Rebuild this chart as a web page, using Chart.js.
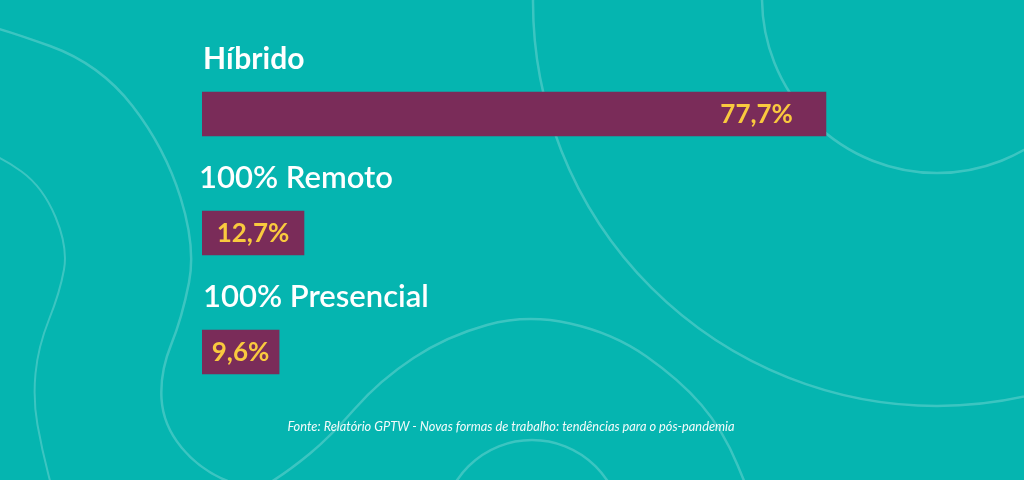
<!DOCTYPE html>
<html>
<head>
<meta charset="utf-8">
<script src="https://cdn.jsdelivr.net/npm/chart.js@4"></script>
<style>
    html, body { margin: 0; padding: 0; background: #05b5b0; }
    #chart-box { width: 1024px; height: 480px; }
</style>
</head>
<body>
<div id="chart-box"><canvas id="Work-Chart" width="1024" height="480"></canvas></div>
<script>
// Data
const categories = ['Híbrido', '100% Remoto', '100% Presencial'];
const shares = [77.7, 12.7, 9.6];
const valueLabels = ['77,7%', '12,7%', '9,6%'];
const sourceNote = 'Fonte: Relatório GPTW - Novas formas de trabalho: tendências para o pós-pandemia';

document.addEventListener('DOMContentLoaded', function () {
    const ctx = document.getElementById('Work-Chart').getContext('2d');

    // smooth line through a list of points (background decoration only)
    function smoothPath(c, pts) {
        c.beginPath();
        c.moveTo(pts[0][0], pts[0][1]);
        for (let i = 1; i < pts.length - 1; i++) {
            const mx = (pts[i][0] + pts[i + 1][0]) / 2;
            const my = (pts[i][1] + pts[i + 1][1]) / 2;
            c.quadraticCurveTo(pts[i][0], pts[i][1], mx, my);
        }
        const last = pts[pts.length - 1];
        c.lineTo(last[0], last[1]);
        c.stroke();
    }

    const backdrop = {
        id: 'backdrop',
        beforeDraw(chart) {
            const c = chart.ctx;
            c.save();
            c.fillStyle = '#05b5b0';
            c.fillRect(0, 0, chart.width, chart.height);
            c.strokeStyle = 'rgba(255, 255, 255, 0.22)';
            c.lineWidth = 2.5;
            // big ring top right
            c.beginPath();
            c.arc(937, 2, 404, 0, Math.PI * 2);
            c.stroke();
            // small ring top right
            c.beginPath();
            c.arc(937, -2, 175, 0, Math.PI * 2);
            c.stroke();
            // small ring at the bottom
            c.beginPath();
            c.arc(532, 530, 90, 0, Math.PI * 2);
            c.stroke();
            // long wave from left edge down and back up round the bottom
            smoothPath(c, [[-20, 24], [0, 28], [100, 64], [165, 148], [196, 247], [182, 318],
                [160, 372], [163, 425], [200, 470], [255, 492], [290, 470], [330, 437],
                [380, 380], [447, 336], [527, 314], [613, 333], [680, 380], [723, 430], [752, 500]]);
            c.lineWidth = 2;
            // inner wave on the left
            smoothPath(c, [[-20, 150], [0, 156], [43, 187], [68, 247], [60, 292], [38, 347],
                [33, 400], [42, 450], [55, 500]]);
            c.restore();
        }
    };

    const barText = {
        id: 'barText',
        afterDatasetsDraw(chart) {
            const c = chart.ctx;
            const meta = chart.getDatasetMeta(0);
            c.save();
            meta.data.forEach(function (bar, i) {
                const top = bar.y - bar.height / 2;
                const left = bar.base;
                const width = bar.x - bar.base;

                // category name above the bar
                c.fillStyle = '#ffffff';
                c.font = (i === 0 ? 'bold 30px' : '600 31px') + ' Lato';
                c.textAlign = 'left';
                c.textBaseline = 'alphabetic';
                c.fillText(categories[i], left + (i === 1 ? -3 : 1), top - 23);

                // value inside the bar
                c.fillStyle = '#f9c93e';
                c.font = 'bold 26px Lato';
                c.textBaseline = 'middle';
                if (width > 200) {
                    c.textAlign = 'right';
                    c.fillText(valueLabels[i], bar.x - 33, bar.y + 1);
                } else {
                    c.textAlign = 'center';
                    c.fillText(valueLabels[i], left + width / 2, bar.y + 1);
                }
            });

            // source note
            c.fillStyle = 'rgba(255, 255, 255, 0.95)';
            c.font = 'italic 12.8px Lato';
            c.textAlign = 'center';
            c.textBaseline = 'alphabetic';
            c.fillText(sourceNote, 511, 431);
            c.restore();
        }
    };

    new Chart(ctx, {
        type: 'bar',
        data: {
            labels: categories,
            datasets: [{
                data: shares,
                backgroundColor: '#7a2c59',
                borderWidth: 0,
                barThickness: 44
            }]
        },
        options: {
            indexAxis: 'y',
            responsive: false,
            animation: false,
            devicePixelRatio: 1,
            layout: {
                padding: { left: 202, right: 19, top: 54.5, bottom: 68.5 }
            },
            plugins: {
                legend: { display: false },
                tooltip: { enabled: false }
            },
            scales: {
                x: { display: false, min: 0, max: 100 },
                y: { display: false }
            }
        },
        plugins: [backdrop, barText]
    });
});
</script>
</body>
</html>
